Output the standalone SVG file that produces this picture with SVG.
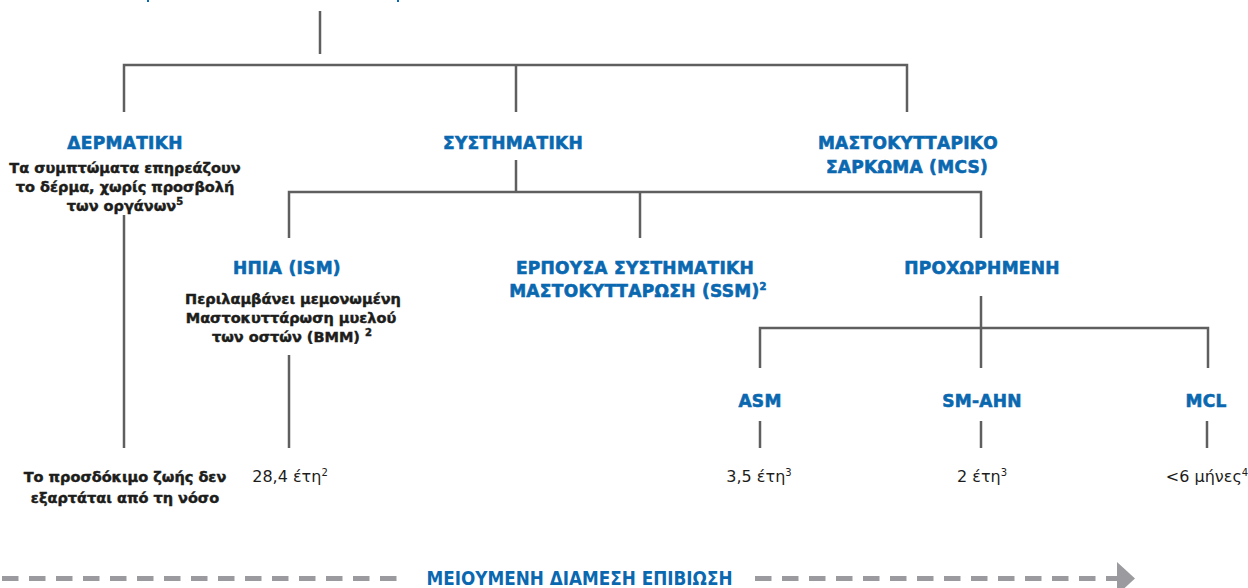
<svg xmlns="http://www.w3.org/2000/svg" width="1248" height="588" viewBox="0 0 1248 588">
<style>
.t{font-family:"DejaVu Sans","Liberation Sans",sans-serif;font-weight:bold;font-size:17px;fill:#0a68b0;stroke:#0a68b0;stroke-width:0.6;text-anchor:middle;letter-spacing:0.3px}
.s{font-family:"DejaVu Sans","Liberation Sans",sans-serif;font-weight:bold;font-size:14.5px;fill:#1d1d1b;stroke:#1d1d1b;stroke-width:0.45;text-anchor:middle}
.v{font-family:"DejaVu Sans","Liberation Sans",sans-serif;font-size:16px;fill:#1d1d1b;text-anchor:middle}
.p{font-size:10px}
.c{fill:none;stroke:#5f5f5f;stroke-width:2.5}
.d{fill:none;stroke:#9b9b9f;stroke-width:5;stroke-dasharray:16.5 10.5}
</style>
<rect width="1248" height="588" fill="#ffffff"/>
<rect x="147" y="0" width="2" height="2" fill="#0a68b0"/>
<rect x="397" y="0" width="2" height="2" fill="#0a68b0"/>
<g id="connectors">
<path class="c" d="M320 11V54"/>
<path class="c" d="M124 112V65H907V112M516 65V112"/>
<path class="c" d="M516 160V192M289 238V192H981V238M640 192V238"/>
<path class="c" d="M124 215V448"/>
<path class="c" d="M289 355V448"/>
<path class="c" d="M981 296V328M760 368V328H1208V368M981 328V368"/>
<path class="c" d="M760 421V448M981 421V448M1207 421V448"/>
</g>
<g id="dermatiki">
<text class="t" x="125" y="149">ΔΕΡΜΑΤΙΚΗ</text>
<text class="s" x="125" y="173">Τα συμπτώματα επηρεάζουν</text>
<text class="s" x="125" y="192">το δέρμα, χωρίς προσβολή</text>
<text class="s" x="125" y="211">των οργάνων<tspan class="p" dy="-6">5</tspan></text>
</g>
<g id="systimatiki"><text class="t" x="513" y="149">ΣΥΣΤΗΜΑΤΙΚΗ</text></g>
<g id="mcs">
<text class="t" x="908" y="149">ΜΑΣΤΟΚΥΤΤΑΡΙΚΟ</text>
<text class="t" x="907" y="173">ΣΑΡΚΩΜΑ (MCS)</text>
</g>
<g id="ism">
<text class="t" x="287" y="274">ΗΠΙΑ (ISM)</text>
<text class="s" x="293" y="304">Περιλαμβάνει μεμονωμένη</text>
<text class="s" x="291" y="323">Μαστοκυττάρωση μυελού</text>
<text class="s" x="292" y="342">των οστών (BMM) <tspan class="p" dy="-6">2</tspan></text>
</g>
<g id="ssm">
<text class="t" x="635" y="274">ΕΡΠΟΥΣΑ ΣΥΣΤΗΜΑΤΙΚΗ</text>
<text class="t" x="638" y="297">ΜΑΣΤΟΚΥΤΤΑΡΩΣΗ (SSM)<tspan class="p" dy="-7">2</tspan></text>
</g>
<g id="proxorimeni"><text class="t" x="982" y="274">ΠΡΟΧΩΡΗΜΕΝΗ</text></g>
<g id="asm"><text class="t" x="760" y="407">ASM</text></g>
<g id="smahn"><text class="t" x="982" y="407">SM-AHN</text></g>
<g id="mcl"><text class="t" x="1206" y="407">MCL</text></g>
<g id="val-derm">
<text class="s" x="125" y="482">Το προσδόκιμο ζωής δεν</text>
<text class="s" x="125" y="503">εξαρτάται από τη νόσο</text>
</g>
<g id="val-ism"><text class="v" x="290" y="482">28,4 έτη<tspan class="p" dy="-6">2</tspan></text></g>
<g id="val-asm"><text class="v" x="759" y="482">3,5 έτη<tspan class="p" dy="-6">3</tspan></text></g>
<g id="val-smahn"><text class="v" x="982" y="482">2 έτη<tspan class="p" dy="-6">3</tspan></text></g>
<g id="val-mcl"><text class="v" x="1207" y="482">&lt;6 μήνες<tspan class="p" dy="-6">4</tspan></text></g>
<g id="survival">
<path class="d" d="M2 578.5H397"/>
<path class="d" d="M755 578.5H1120"/>
<path d="M1117 562L1135 578.5L1117 595Z" fill="#9b9b9f"/>
<text x="579.5" y="585" font-family="DejaVu Sans Condensed,DejaVu Sans,sans-serif" font-weight="bold" font-size="19" fill="#0a68b0" text-anchor="middle" textLength="306" lengthAdjust="spacingAndGlyphs">ΜΕΙΟΥΜΕΝΗ ΔΙΑΜΕΣΗ ΕΠΙΒΙΩΣΗ</text>
</g>
</svg>
